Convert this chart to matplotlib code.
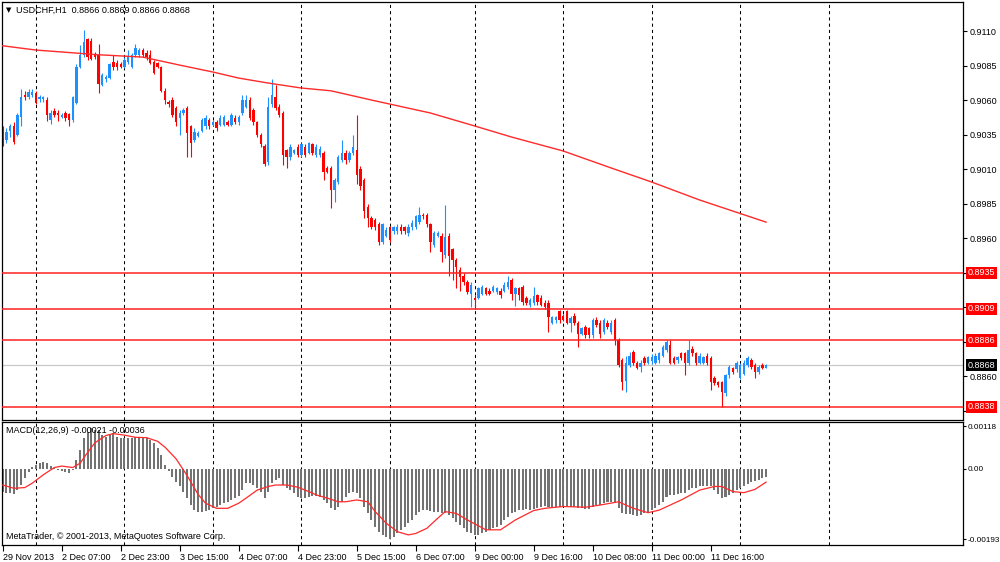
import matplotlib
matplotlib.use("Agg")
import matplotlib.pyplot as plt
import numpy as np

plt.rcParams['font.family'] = ['Liberation Sans', 'DejaVu Sans']

# USDCHF H1 candles, prices in points (1 point = 0.0001), bar 0 = 29 Nov 2013 15:00
open_pts = [
    9038, 9031, 9038, 9041, 9035, 9048, 9064, 9062, 9064, 9065,
    9061, 9061, 9060, 9046, 9052, 9051, 9048, 9051, 9050, 9046,
    9058, 9084, 9093, 9104, 9103, 9093, 9093, 9071, 9075, 9076,
    9088, 9087, 9086, 9084, 9088, 9084, 9093, 9093, 9096, 9094,
    9093, 9088, 9087, 9084, 9067, 9059, 9060, 9054, 9047, 9051,
    9054, 9041, 9031, 9034, 9038, 9041, 9046, 9042, 9044, 9042,
    9042, 9044, 9042, 9047, 9044, 9051, 9055, 9060, 9053, 9044,
    9035, 9027, 9015, 9057, 9062, 9055, 9051, 9024, 9019, 9022,
    9026, 9020, 9026, 9022, 9028, 9020, 9020, 9022, 9011, 9011,
    8995, 9001, 9017, 9022, 9017, 9022, 9024, 9010, 9002, 8983,
    8975, 8973, 8970, 8957, 8962, 8968, 8965, 8965, 8968, 8968,
    8964, 8968, 8968, 8972, 8977, 8977, 8970, 8955, 8962, 8962,
    8948, 8962, 8952, 8944, 8937, 8933, 8928, 8920, 8917, 8917,
    8920, 8924, 8922, 8922, 8921, 8922, 8922, 8925, 8930, 8920,
    8924, 8925, 8917, 8912, 8913, 8919, 8917, 8913, 8913, 8899,
    8901, 8907, 8904, 8907, 8899, 8904, 8899, 8891, 8896, 8895,
    8890, 8901, 8899, 8892, 8899, 8892, 8901, 8886, 8872, 8857,
    8868, 8878, 8870, 8867, 8873, 8870, 8871, 8870, 8872, 8875,
    8879, 8883, 8873, 8872, 8877, 8877, 8870, 8880, 8877, 8870,
    8870, 8875, 8873, 8859, 8856, 8856, 8848, 8861, 8866, 8865,
    8859, 8862, 8868, 8872, 8868, 8863, 8868, 8866,
]
high_pts = [
    9041, 9040, 9043, 9044, 9051, 9068, 9067, 9068, 9068, 9067,
    9064, 9063, 9062, 9053, 9054, 9053, 9051, 9052, 9051, 9063,
    9086, 9100, 9111, 9105, 9105, 9095, 9101, 9080, 9078, 9087,
    9093, 9089, 9088, 9091, 9096, 9094, 9101, 9098, 9098, 9096,
    9096, 9089, 9088, 9085, 9069, 9060, 9062, 9056, 9053, 9054,
    9056, 9042, 9040, 9038, 9047, 9049, 9047, 9046, 9046, 9049,
    9049, 9046, 9051, 9049, 9049, 9064, 9064, 9062, 9054, 9045,
    9036, 9028, 9062, 9075, 9071, 9057, 9052, 9025, 9028, 9025,
    9028, 9029, 9028, 9030, 9029, 9028, 9027, 9023, 9012, 9012,
    9004, 9020, 9031, 9024, 9023, 9035, 9049, 9012, 9004, 8985,
    8976, 8975, 8972, 8971, 8968, 8969, 8969, 8970, 8970, 8969,
    8970, 8973, 8977, 8983, 8978, 8978, 8971, 8965, 8965, 8964,
    8984, 8964, 8953, 8946, 8939, 8935, 8930, 8928, 8919, 8925,
    8926, 8925, 8924, 8926, 8925, 8924, 8928, 8933, 8931, 8925,
    8925, 8926, 8918, 8917, 8925, 8920, 8919, 8915, 8915, 8904,
    8904, 8908, 8905, 8908, 8904, 8906, 8900, 8896, 8897, 8896,
    8902, 8903, 8901, 8902, 8901, 8901, 8902, 8888, 8873, 8875,
    8878, 8879, 8871, 8872, 8875, 8875, 8876, 8877, 8878, 8883,
    8886, 8886, 8875, 8875, 8878, 8878, 8886, 8882, 8878, 8877,
    8875, 8877, 8875, 8860, 8857, 8857, 8862, 8868, 8867, 8871,
    8870, 8872, 8875, 8873, 8870, 8868, 8870, 8869,
]
low_pts = [
    9027, 9029, 9033, 9028, 9034, 9041, 9060, 9061, 9062, 9057,
    9059, 9059, 9045, 9043, 9048, 9045, 9047, 9045, 9041, 9044,
    9057, 9083, 9091, 9089, 9089, 9090, 9065, 9070, 9073, 9075,
    9082, 9082, 9083, 9083, 9086, 9083, 9091, 9091, 9091, 9089,
    9086, 9079, 9083, 9066, 9057, 9055, 9048, 9041, 9035, 9049,
    9019, 9019, 9030, 9033, 9037, 9039, 9039, 9041, 9038, 9041,
    9041, 9041, 9041, 9043, 9042, 9049, 9054, 9046, 9042, 9033,
    9026, 9012, 9013, 9055, 9053, 9048, 9013, 9011, 9017, 9021,
    9019, 9019, 9019, 9021, 9020, 9019, 9019, 9002, 9007, 8982,
    8986, 8999, 9015, 9014, 9015, 9020, 8999, 8995, 8975, 8968,
    8967, 8966, 8955, 8956, 8961, 8957, 8963, 8963, 8963, 8963,
    8962, 8966, 8967, 8970, 8974, 8968, 8950, 8954, 8961, 8943,
    8946, 8933, 8930, 8924, 8922, 8926, 8920, 8910, 8909, 8916,
    8919, 8919, 8919, 8921, 8920, 8917, 8921, 8923, 8915, 8911,
    8915, 8912, 8912, 8910, 8912, 8912, 8911, 8909, 8892, 8898,
    8899, 8899, 8900, 8898, 8892, 8897, 8881, 8890, 8888, 8888,
    8888, 8896, 8888, 8891, 8894, 8891, 8883, 8867, 8850, 8849,
    8867, 8868, 8865, 8863, 8868, 8869, 8869, 8869, 8870, 8874,
    8878, 8869, 8869, 8870, 8872, 8861, 8868, 8875, 8868, 8869,
    8869, 8868, 8850, 8854, 8852, 8838, 8846, 8859, 8862, 8863,
    8858, 8861, 8867, 8865, 8859, 8862, 8865, 8866,
]
close_pts = [
    9029, 9037, 9041, 9030, 9049, 9062, 9062, 9066, 9066, 9058,
    9062, 9062, 9049, 9051, 9049, 9049, 9049, 9047, 9046, 9062,
    9084, 9093, 9102, 9091, 9090, 9091, 9072, 9078, 9077, 9086,
    9084, 9084, 9084, 9089, 9091, 9093, 9098, 9096, 9093, 9091,
    9087, 9080, 9084, 9067, 9060, 9057, 9049, 9044, 9051, 9053,
    9036, 9029, 9037, 9036, 9046, 9047, 9041, 9044, 9040, 9047,
    9048, 9042, 9049, 9044, 9048, 9060, 9060, 9047, 9044, 9035,
    9028, 9014, 9055, 9064, 9054, 9049, 9020, 9019, 9026, 9024,
    9020, 9028, 9020, 9029, 9022, 9026, 9025, 9008, 9008, 8995,
    9002, 9019, 9022, 9017, 9022, 9026, 9006, 8998, 8980, 8975,
    8968, 8968, 8957, 8970, 8966, 8959, 8968, 8968, 8965, 8965,
    8968, 8971, 8976, 8977, 8976, 8970, 8957, 8964, 8964, 8950,
    8961, 8947, 8944, 8939, 8932, 8928, 8921, 8926, 8915, 8924,
    8925, 8920, 8920, 8925, 8924, 8919, 8926, 8928, 8920, 8924,
    8919, 8914, 8913, 8915, 8918, 8914, 8912, 8910, 8903, 8903,
    8903, 8901, 8901, 8899, 8902, 8899, 8891, 8895, 8890, 8890,
    8901, 8897, 8891, 8901, 8896, 8899, 8886, 8868, 8856, 8870,
    8875, 8870, 8866, 8870, 8870, 8874, 8874, 8875, 8877, 8881,
    8885, 8870, 8870, 8874, 8873, 8870, 8879, 8877, 8870, 8875,
    8874, 8870, 8856, 8855, 8854, 8849, 8861, 8867, 8863, 8870,
    8868, 8870, 8873, 8867, 8863, 8867, 8866, 8868,
]

# moving average (red line), read at a few bars
ma_bars = [0, 9, 26, 38, 48, 57, 64, 72, 81, 89, 100, 116, 128, 138, 152, 165, 176, 189, 207]
ma_vals = [0.90994, 0.90963, 0.90929, 0.90912, 0.90854, 0.90804, 0.90760, 0.90724, 0.90688,
           0.90668, 0.90601, 0.90507, 0.90413, 0.90333, 0.90232, 0.90109, 0.90007, 0.89877, 0.89717]

# MACD(12,26,9) main histogram, in units of 0.00001
macd_hist = [
    -62, -65, -67, -70, -58, -44, -26, -7, 6, 11,
    17, 20, 16, 8, 2, -3, -5, -7, -10, -3,
    25, 52, 84, 102, 112, 107, 107, 93, 89, 93,
    98, 89, 84, 84, 84, 84, 87, 87, 87, 84,
    80, 70, 58, 38, 11, -6, -21, -35, -48, -62,
    -80, -99, -113, -117, -117, -114, -113, -108, -103, -99,
    -94, -92, -85, -80, -74, -58, -39, -38, -44, -53,
    -62, -80, -62, -39, -30, -26, -44, -53, -58, -67,
    -76, -80, -80, -76, -74, -74, -76, -85, -94, -108,
    -113, -103, -90, -76, -67, -62, -67, -80, -103, -122,
    -140, -158, -172, -181, -188, -193, -186, -177, -167, -160,
    -149, -140, -126, -117, -113, -113, -114, -117, -117, -122,
    -120, -126, -135, -145, -154, -163, -172, -177, -181, -181,
    -177, -172, -167, -163, -158, -154, -140, -131, -122, -117,
    -113, -113, -111, -113, -111, -108, -103, -102, -103, -103,
    -103, -103, -103, -103, -103, -105, -108, -108, -110, -111,
    -103, -99, -99, -94, -92, -90, -94, -108, -122, -124,
    -124, -126, -129, -126, -122, -117, -113, -108, -99, -90,
    -76, -71, -71, -69, -67, -65, -58, -53, -51, -48,
    -47, -47, -48, -58, -69, -80, -78, -71, -67, -58,
    -53, -47, -41, -37, -33, -29, -25, -21,
]
signal_bars = [0, 3, 6, 8, 11, 14, 16, 19, 21, 23, 25, 28, 30, 33, 36, 39, 42, 44, 47, 50,
               53, 55, 58, 61, 64, 66, 69, 72, 74, 77, 80, 83, 85, 88, 91, 93, 96, 99, 101,
               104, 107, 110, 112, 115, 118, 120, 123, 126, 129, 131, 135, 139, 144, 147,
               152, 158, 162, 167, 171, 175, 178, 184, 189, 193, 195, 198, 201, 204, 207]
signal_vals = [-44, -53, -51, -39, -16, 4, 8, 4, 16, 45, 72, 92, 97, 93, 87, 86, 76, 60, 28, -18,
               -70, -94, -108, -108, -94, -80, -58, -48, -44, -44, -50, -62, -71, -80, -90, -90,
               -85, -90, -117, -149, -172, -181, -177, -163, -135, -117, -122, -140, -156, -167,
               -167, -140, -114, -108, -103, -105, -99, -90, -108, -120, -113, -85, -58, -48,
               -48, -62, -65, -56, -36]

levels = [0.8935, 0.8909, 0.8886, 0.8838]
bid = 0.8868
separator_bars = [9, 33, 57, 81, 105, 128, 152, 176, 200, 224]
time_bars = [0, 16, 32, 48, 64, 80, 96, 112, 128, 144, 160, 176, 192]
time_labels = ['29 Nov 2013', '2 Dec 07:00', '2 Dec 23:00', '3 Dec 15:00', '4 Dec 07:00',
               '4 Dec 23:00', '5 Dec 15:00', '6 Dec 07:00', '9 Dec 00:00', '9 Dec 16:00',
               '10 Dec 08:00', '11 Dec 00:00', '11 Dec 16:00']
price_ticks = [0.8835, 0.8860, 0.8885, 0.8910, 0.8935, 0.8960, 0.8985, 0.9010, 0.9035,
               0.9060, 0.9085, 0.9110]
hidden_ticks = [0.8835, 0.8885, 0.8910, 0.8935]  # covered by the level boxes
macd_ticks = [0.00118, 0.0, -0.00193]
macd_tick_labels = ['0.00118', '0.00', '-0.00193']

BULL = '#1E90FF'
BEAR = '#FF0000'
FS = 6.5

o = np.array(open_pts) / 1e4
h = np.array(high_pts) / 1e4
l = np.array(low_pts) / 1e4
c = np.array(close_pts) / 1e4
x = np.arange(len(o))
cols = np.where(c >= o, BULL, BEAR)

fig = plt.figure(figsize=(10, 5.62), dpi=100)
ax = fig.add_axes([0.002, (562 - 420) / 562, 0.961, 418 / 562])
mx = fig.add_axes([0.002, (562 - 545) / 562, 0.961, 123 / 562])

for a in (ax, mx):
    a.set_xlim(-0.19, 260.4)
    for s in a.spines.values():
        s.set_color('black')
        s.set_linewidth(0.9)
    for b in separator_bars:
        a.axvline(b, color='black', lw=0.75, ls=(0, (3, 3)), zorder=1)

# price panel
ax.set_ylim(0.88284, 0.91311)
ax.vlines(x, l, h, colors=cols, lw=0.8, zorder=2)
body = np.maximum(np.abs(c - o), 0.00003)
ax.bar(x, body, bottom=np.minimum(o, c), width=0.65, color=cols, linewidth=0, zorder=2)
ax.plot(ma_bars, ma_vals, color='#FF2A2A', lw=1.0, zorder=3)
for lv in levels:
    ax.axhline(lv, color='#FF2020', lw=1.1, zorder=3)
ax.axhline(bid, color='#C8C8C8', lw=0.9, zorder=1.5)

ax.set_xticks([])
ax.yaxis.tick_right()
ax.set_yticks(price_ticks)
ax.set_yticklabels(['' if any(abs(p - q) < 1e-6 for q in hidden_ticks) else f'{p:.4f}'
                    for p in price_ticks])
ax.tick_params(axis='y', direction='out', length=3, width=0.8, pad=2, labelsize=FS)

for lv in levels + [bid]:
    ax.annotate(f'{lv:.4f}', xy=(1.0, lv), xycoords=('axes fraction', 'data'),
                xytext=(3.5, 0), textcoords='offset points', va='center', ha='left',
                fontsize=FS, color='white', annotation_clip=False, zorder=10,
                bbox=dict(boxstyle='square,pad=0.18', fc='black' if lv == bid else '#FF0000',
                          ec='none'))

fig.text(0.006, 1 - 10 / 562, '\u25BC', fontsize=5, va='center', ha='left',
         family=['DejaVu Sans'])
fig.text(0.016, 1 - 10 / 562, 'USDCHF,H1  0.8866 0.8869 0.8866 0.8868',
         fontsize=FS, va='center', ha='left')

# MACD panel
mx.set_ylim(-0.002087, 0.00129)
mx.bar(x, np.array(macd_hist) / 1e5, width=0.55, color='#737373', linewidth=0, zorder=2)
mx.plot(signal_bars, np.array(signal_vals) / 1e5, color='#FF2A2A', lw=0.9, zorder=3)
mx.yaxis.tick_right()
mx.set_yticks(macd_ticks)
mx.set_yticklabels(macd_tick_labels)
mx.tick_params(axis='y', direction='out', length=2.5, width=0.8, pad=0.8, labelsize=5.9)
mx.set_xticks(time_bars)
mx.set_xticklabels(time_labels, ha='left')
mx.tick_params(axis='x', direction='out', length=4, width=0.8, pad=1.5, labelsize=FS)

mx.text(0.004, 0.97, 'MACD(12,26,9) -0.00021 -0.00036', transform=mx.transAxes,
        fontsize=FS, va='top', ha='left', zorder=5)
mx.text(0.004, 0.03, 'MetaTrader, \u00A9 2001-2013, MetaQuotes Software Corp.',
        transform=mx.transAxes, fontsize=FS, va='bottom', ha='left', zorder=5)

fig.savefig('out.png', dpi=100)
